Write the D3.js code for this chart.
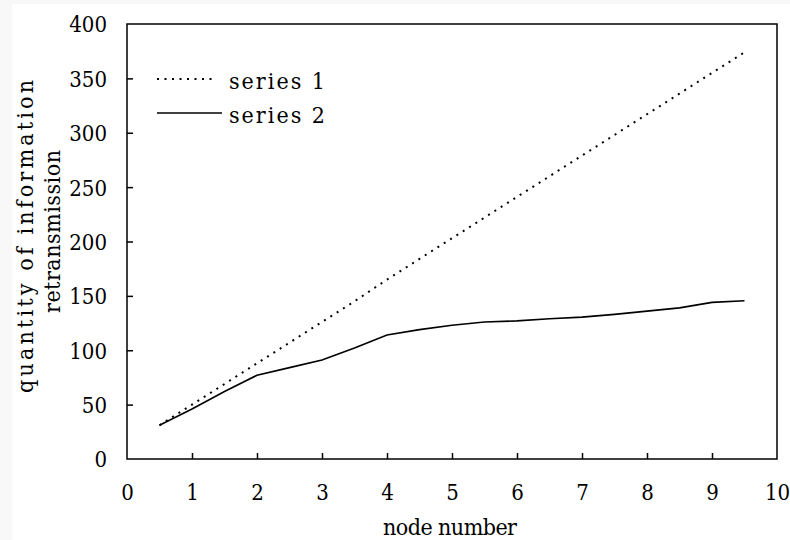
<!DOCTYPE html>
<html>
<head>
<meta charset="utf-8">
<script src="https://cdn.jsdelivr.net/npm/d3@7"></script>
<style>
  body { margin: 0; background: #f8f8f8; }
  text { font-family: "DejaVu Serif Condensed", "DejaVu Serif", serif; font-stretch: condensed; fill: #000; }
</style>
</head>
<body>
<svg id="drawing_region"></svg>
<script>
// node number (x) and the two series
const nodes   = [0.5, 1, 1.5, 2, 2.5, 3, 3.5, 4, 4.5, 5, 5.5, 6, 6.5, 7, 7.5, 8, 8.5, 9, 9.5];
const series1 = [31, 50, 69, 88, 107, 126, 145, 165, 184, 203, 222, 241, 260, 279, 298, 317, 336, 355, 374];
const series2 = [31, 46, 62, 77, 84, 91, 102, 114, 119, 123, 126, 127, 129, 130.5, 133, 136, 139, 144, 145.5];
const xTicks  = [0, 1, 2, 3, 4, 5, 6, 7, 8, 9, 10];
const yTicks  = [0, 50, 100, 150, 200, 250, 300, 350, 400];
const seriesNames = ['series 1', 'series 2'];

const config = {
    width: 790,
    height: 540,
    margin: {top: 24, right: 13, bottom: 81, left: 127}
};

const svg = d3.select('#drawing_region')
    .attr('width', config.width)
    .attr('height', config.height);

svg.append('rect')
    .attr('x', 12).attr('y', 4)
    .attr('width', config.width - 12).attr('height', config.height - 4)
    .attr('fill', '#fff');

const inner_width = config.width - config.margin.left - config.margin.right;
const inner_height = config.height - config.margin.top - config.margin.bottom;

const chart = svg.append('g')
    .attr('transform', `translate(${config.margin.left}, ${config.margin.top})`);

const xscale = d3.scaleLinear().domain([0, 10]).range([0, inner_width]);
const yscale = d3.scaleLinear().domain([0, 400]).range([inner_height, 0]);

// frame
chart.append('rect')
    .attr('width', inner_width)
    .attr('height', inner_height)
    .attr('fill', 'none')
    .attr('stroke', '#000')
    .attr('stroke-width', 1.5);

// axes: ticks point inward
const xaxis = d3.axisBottom(xscale)
    .tickValues(xTicks)
    .tickFormat(d3.format('d'))
    .tickSize(-6)
    .tickPadding(26);

const yaxis = d3.axisLeft(yscale)
    .tickValues(yTicks)
    .tickSize(-6)
    .tickPadding(20);

const xaxis_group = chart.append('g')
    .attr('transform', `translate(0, ${inner_height})`)
    .call(xaxis);

const yaxis_group = chart.append('g')
    .call(yaxis);

[xaxis_group, yaxis_group].forEach(g => {
    g.select('.domain').remove();
    g.selectAll('.tick line').attr('stroke', '#000').attr('stroke-width', 1.5);
    g.selectAll('.tick text')
        .attr('font-family', '"DejaVu Serif Condensed", "DejaVu Serif", serif')
        .attr('font-size', 22)
        .attr('fill', '#000');
});
xaxis_group.selectAll('.tick text').attr('dy', '0.68em');
yaxis_group.selectAll('.tick text').attr('dy', '0.36em');
// no ticks at the frame corners
xaxis_group.selectAll('.tick line').filter(d => d === 0 || d === 10).remove();
yaxis_group.selectAll('.tick line').filter(d => d === 0 || d === 400).remove();

// lines
const line = d3.line()
    .x(d => xscale(d[0]))
    .y(d => yscale(d[1]));

const data1 = nodes.map((n, i) => [n, series1[i]]);
const data2 = nodes.map((n, i) => [n, series2[i]]);

chart.append('path')
    .datum(data1)
    .attr('d', line)
    .attr('fill', 'none')
    .attr('stroke', '#000')
    .attr('stroke-width', 2)
    .attr('stroke-dasharray', '2,5.5');

chart.append('path')
    .datum(data2)
    .attr('d', line)
    .attr('fill', 'none')
    .attr('stroke', '#000')
    .attr('stroke-width', 1.6);

// legend
const legend = svg.append('g');
const legendRows = [
    {name: seriesNames[0], y: 79, x2: 217, dash: '2,5.5', w: 2},
    {name: seriesNames[1], y: 113, x2: 222, dash: null, w: 1.6}
];
legendRows.forEach(r => {
    legend.append('line')
        .attr('x1', 157).attr('x2', r.x2)
        .attr('y1', r.y).attr('y2', r.y)
        .attr('stroke', '#000')
        .attr('stroke-width', r.w)
        .attr('stroke-dasharray', r.dash);
    legend.append('text')
        .attr('x', 229)
        .attr('y', r.y + 2)
        .attr('dy', '0.35em')
        .attr('font-size', 23)
        .attr('textLength', 96)
        .attr('lengthAdjust', 'spacing')
        .text(r.name);
});

// axis titles
svg.append('text')
    .attr('x', 383)
    .attr('y', 535)
    .attr('font-size', 23)
    .attr('textLength', 134)
    .attr('lengthAdjust', 'spacing')
    .text('node number');

svg.append('text')
    .attr('transform', 'translate(25, 393) rotate(-90)')
    .attr('dy', '0.35em')
    .attr('font-size', 23)
    .attr('textLength', 313)
    .attr('lengthAdjust', 'spacing')
    .text('quantity of information');

svg.append('text')
    .attr('transform', 'translate(52, 313) rotate(-90)')
    .attr('dy', '0.35em')
    .attr('font-size', 23)
    .attr('textLength', 163)
    .attr('lengthAdjust', 'spacing')
    .text('retransmission');
</script>
</body>
</html>
